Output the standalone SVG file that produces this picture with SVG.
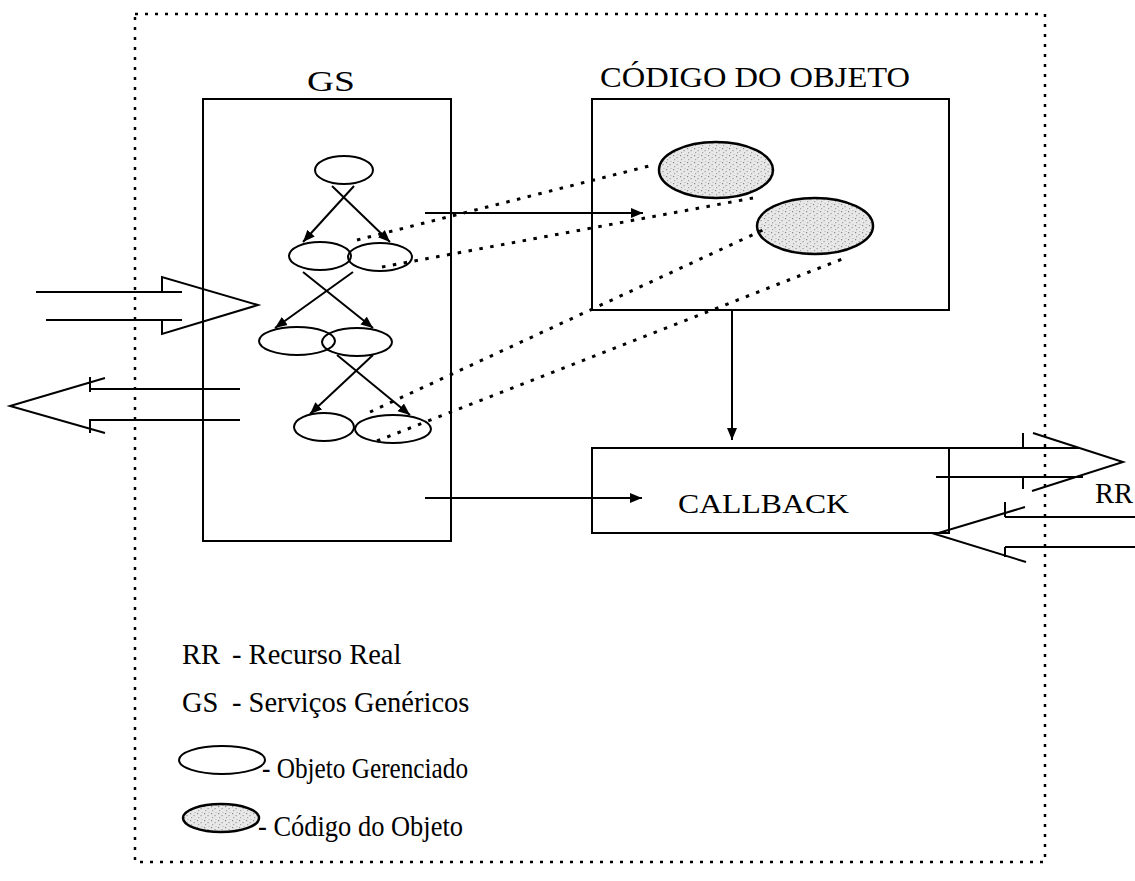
<svg xmlns="http://www.w3.org/2000/svg" width="1135" height="881" viewBox="0 0 1135 881">
<style>
.ln{stroke:#000;stroke-width:2;fill:none}
.el{stroke:#000;stroke-width:2;fill:#fff}
.sh{stroke:#000;stroke-width:2.5;fill:url(#stip)}
.dot{stroke:#000;stroke-width:3;stroke-dasharray:3.5 7.5;fill:none}
.border{stroke:#000;stroke-width:2.5;stroke-dasharray:3 7;fill:none}
.t{font-family:"Liberation Serif","Times New Roman",serif;fill:#000}
.title{font-size:30px}
.leg{font-size:28.5px}
</style>
<defs>
<marker id="ah" markerUnits="userSpaceOnUse" markerWidth="13" markerHeight="11" refX="12" refY="5" orient="auto" viewBox="0 0 13 10">
<path d="M0,0 L12,5 L0,10 z" fill="#000"/>
</marker>
<pattern id="stip" patternUnits="userSpaceOnUse" width="7" height="7">
<rect width="7" height="7" fill="#e8e8e8"/>
<rect x="1" y="1" width="1.2" height="1.2" fill="#888"/>
<rect x="4.5" y="3" width="1.2" height="1.2" fill="#999"/>
<rect x="2" y="5" width="1.2" height="1.2" fill="#a5a5a5"/>
<rect x="5.5" y="0" width="1" height="1" fill="#b0b0b0"/>
</pattern>
</defs>
<rect width="1135" height="881" fill="#fff"/>
<g id="border">
<rect class="border" x="135" y="14" width="910" height="848"/>
</g>
<g id="gs">
<text class="t title" x="307" y="91" textLength="48" lengthAdjust="spacingAndGlyphs">GS</text>
<rect class="ln" x="203" y="99" width="248" height="442"/>
<ellipse class="el" cx="344" cy="170" rx="29" ry="14"/>
<ellipse class="el" cx="320" cy="256" rx="31" ry="14"/>
<ellipse class="el" cx="380" cy="257" rx="32" ry="14" style="fill:none"/>
<ellipse class="el" cx="297" cy="341" rx="38" ry="14"/>
<ellipse class="el" cx="357" cy="342" rx="35" ry="14" style="fill:none"/>
<ellipse class="el" cx="324" cy="427" rx="30" ry="14"/>
<ellipse class="el" cx="393" cy="429" rx="38" ry="14"/>
</g>
<g id="codigo">
<text class="t title" x="600" y="87" textLength="310" lengthAdjust="spacingAndGlyphs">CÓDIGO DO OBJETO</text>
<rect class="ln" x="592" y="99" width="357" height="211"/>
<ellipse class="sh" cx="716" cy="170" rx="57" ry="28"/>
<ellipse class="sh" cx="815" cy="226" rx="58" ry="28"/>
</g>
<g id="callback">
<rect class="ln" x="592" y="448" width="357" height="85"/>
<text class="t" font-size="27" x="678" y="513" textLength="171" lengthAdjust="spacingAndGlyphs">CALLBACK</text>
</g>
<g id="rr">
<text class="t leg" x="1095" y="503">RR</text>
</g>
<g id="connectors">
<line class="ln" x1="332" y1="186" x2="390" y2="242" marker-end="url(#ah)"/>
<line class="ln" x1="354" y1="186" x2="303" y2="242" marker-end="url(#ah)"/>
<line class="ln" x1="303" y1="272" x2="373" y2="328" marker-end="url(#ah)"/>
<line class="ln" x1="353" y1="272" x2="275" y2="328" marker-end="url(#ah)"/>
<line class="ln" x1="337" y1="355" x2="410" y2="415" marker-end="url(#ah)"/>
<line class="ln" x1="373" y1="355" x2="310" y2="414" marker-end="url(#ah)"/>
<line class="ln" x1="425" y1="213" x2="643" y2="213" marker-end="url(#ah)"/>
<line class="ln" x1="425" y1="498" x2="642" y2="498" marker-end="url(#ah)"/>
<line class="ln" x1="732" y1="311" x2="732" y2="440" marker-end="url(#ah)"/>
<line class="dot" x1="357" y1="240" x2="653" y2="165"/>
<line class="dot" x1="382" y1="267" x2="753" y2="198"/>
<line class="dot" x1="370" y1="412" x2="763" y2="230"/>
<line class="dot" x1="377" y1="441" x2="845" y2="258"/>
<path class="ln" d="M36,292 H182 M46,320 H182 M162,292 V277 L258,305 L162,334 V320"/>
<path class="ln" d="M90,389 H240 M90,420 H240 M90,377 V392 M90,419 V433 M105,378 L10,406 L105,433"/>
<path class="ln" d="M949,448 H1080 M936,477 H1083 M1033,433 L1123,462 L1032,491 M1023,433 V448 M1023,477 V489"/>
<path class="ln" d="M1005,517 H1135 M1005,547 H1135 M1005,502 V517 M1005,547 V557 M1025,507 L935,534 L1026,562"/>
</g>
<g id="legend">
<text class="t leg" x="182" y="664">RR</text>
<text class="t leg" x="232" y="664">- Recurso Real</text>
<text class="t leg" x="182" y="712">GS</text>
<text class="t leg" x="232" y="712">- Serviços Genéricos</text>
<ellipse class="el" cx="222" cy="760" rx="43" ry="14"/>
<text class="t leg" x="262" y="778" textLength="206" lengthAdjust="spacingAndGlyphs">- Objeto Gerenciado</text>
<ellipse class="sh" cx="221" cy="818" rx="38" ry="14"/>
<text class="t leg" x="258" y="836" textLength="205" lengthAdjust="spacingAndGlyphs">- Código do  Objeto</text>
</g>
</svg>
